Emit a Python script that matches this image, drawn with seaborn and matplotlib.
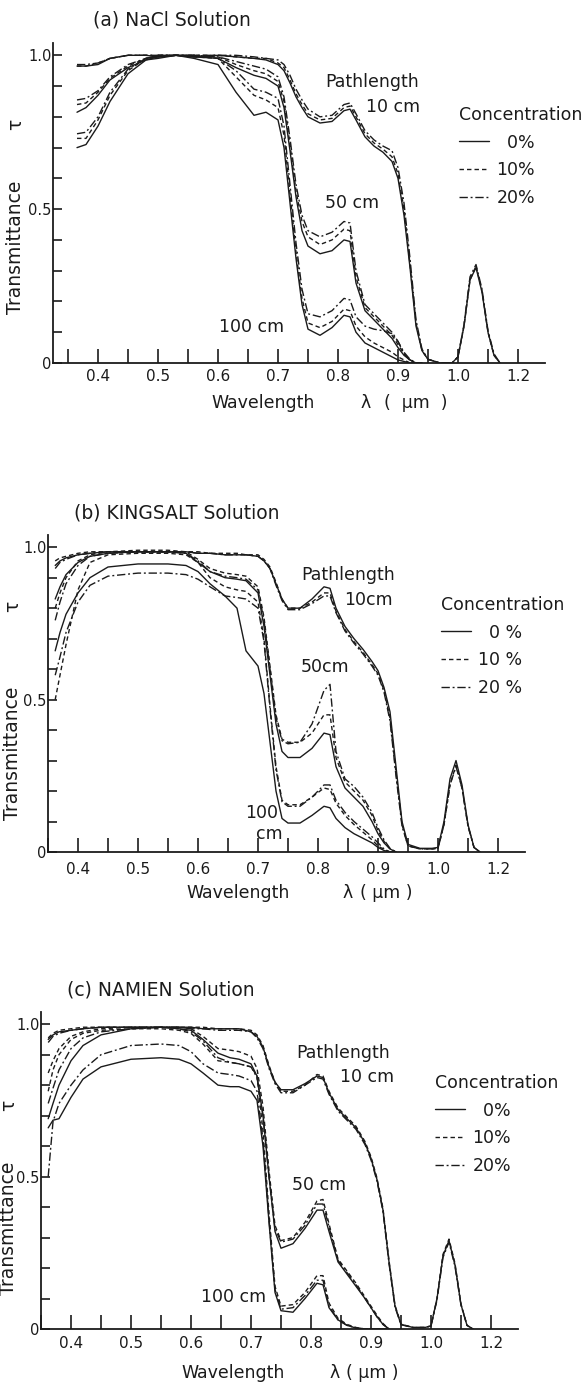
import numpy as np
import pandas as pd
import matplotlib
matplotlib.use("Agg")
import matplotlib.pyplot as plt
import seaborn as sns
from matplotlib.lines import Line2D

# ---------------------------------------------------------------- data
CONCENTRATIONS = ["0%", "10%", "20%"]
PATHS = ["10 cm", "50 cm", "100 cm"]

X_TICKS = [0.35, 0.40, 0.45, 0.50, 0.55, 0.60, 0.65, 0.70, 0.75, 0.80,
           0.85, 0.90, 0.95, 1.00, 1.10, 1.20]
X_TICK_LABELS = ["", "0.4", "", "0.5", "", "0.6", "", "0.7", "", "0.8",
                 "", "0.9", "", "1.0", "", "1.2"]
Y_TICKS = [0.0, 0.1, 0.2, 0.3, 0.4, 0.5, 0.6, 0.7, 0.8, 0.9, 1.0]
Y_TICK_LABELS = ["0", "", "", "", "", "0.5", "", "", "", "", "1.0"]

# ---- (a) NaCl solution
WL_A = [0.365, 0.38, 0.40, 0.42, 0.45, 0.48, 0.50, 0.53, 0.56, 0.60, 0.63,
        0.66, 0.68, 0.70, 0.71, 0.72, 0.73, 0.74, 0.75, 0.77, 0.79, 0.81,
        0.82, 0.83, 0.845, 0.86, 0.875, 0.89, 0.90, 0.91, 0.92, 0.93, 0.94]
WL_A_TAIL = [0.95, 0.97, 0.99, 1.00, 1.02, 1.04, 1.06, 1.08, 1.10, 1.12, 1.14]

A_10_0 = [0.965, 0.965, 0.97, 0.99, 1.0, 1.0, 0.995, 1.0, 0.995, 1.0, 0.995,
          0.99, 0.985, 0.97, 0.95, 0.91, 0.865, 0.83, 0.80, 0.78, 0.785, 0.82,
          0.825, 0.79, 0.735, 0.705, 0.685, 0.655, 0.60, 0.48, 0.31, 0.12, 0.04,
          0.012, 0.0, 0.0, 0.02, 0.12, 0.27, 0.31, 0.23, 0.10, 0.025, 0.0]
A_10_10 = [0.965, 0.965, 0.975, 0.99, 1.0, 1.0, 1.0, 1.0, 1.0, 1.0, 0.995,
           0.99, 0.99, 0.975, 0.96, 0.92, 0.875, 0.84, 0.81, 0.79, 0.795, 0.83,
           0.835, 0.80, 0.745, 0.715, 0.695, 0.67, 0.615, 0.50, 0.32, 0.13, 0.04,
           0.012, 0.0, 0.0, 0.02, 0.12, 0.27, 0.315, 0.235, 0.10, 0.025, 0.0]
A_10_20 = [0.97, 0.97, 0.975, 0.99, 1.0, 1.0, 1.0, 1.0, 1.0, 1.0, 1.0,
           0.995, 0.99, 0.985, 0.97, 0.935, 0.89, 0.855, 0.825, 0.80, 0.805, 0.84,
           0.845, 0.81, 0.755, 0.725, 0.705, 0.69, 0.635, 0.52, 0.34, 0.14, 0.045,
           0.012, 0.0, 0.0, 0.02, 0.125, 0.28, 0.32, 0.24, 0.105, 0.03, 0.0]
A_50_0 = [0.815, 0.83, 0.87, 0.92, 0.96, 0.985, 0.995, 1.0, 0.995, 0.99, 0.96,
          0.935, 0.925, 0.90, 0.83, 0.69, 0.54, 0.43, 0.38, 0.355, 0.365, 0.40,
          0.395, 0.26, 0.17, 0.14, 0.11, 0.08, 0.05, 0.025, 0.01, 0.0, 0.0]
A_50_10 = [0.84, 0.845, 0.88, 0.925, 0.965, 0.99, 0.995, 1.0, 0.995, 0.995, 0.97,
           0.95, 0.94, 0.915, 0.85, 0.71, 0.56, 0.46, 0.41, 0.385, 0.40, 0.435,
           0.43, 0.28, 0.18, 0.15, 0.12, 0.09, 0.06, 0.03, 0.01, 0.0, 0.0]
A_50_20 = [0.855, 0.86, 0.885, 0.93, 0.97, 0.99, 1.0, 1.0, 1.0, 0.995, 0.98,
           0.965, 0.955, 0.93, 0.865, 0.73, 0.58, 0.48, 0.43, 0.41, 0.425, 0.46,
           0.455, 0.30, 0.19, 0.16, 0.13, 0.10, 0.07, 0.035, 0.012, 0.0, 0.0]
A_100_0 = [0.70, 0.71, 0.77, 0.85, 0.94, 0.985, 0.99, 1.0, 0.99, 0.97, 0.88,
           0.805, 0.815, 0.79, 0.70, 0.52, 0.34, 0.19, 0.11, 0.09, 0.115, 0.155,
           0.15, 0.10, 0.065, 0.05, 0.035, 0.02, 0.01, 0.005, 0.0, 0.0, 0.0]
A_100_10 = [0.73, 0.73, 0.79, 0.87, 0.95, 0.99, 0.995, 1.0, 0.995, 0.99, 0.93,
            0.87, 0.855, 0.83, 0.74, 0.55, 0.36, 0.21, 0.13, 0.115, 0.135, 0.175,
            0.17, 0.12, 0.085, 0.065, 0.05, 0.035, 0.02, 0.01, 0.0, 0.0, 0.0]
A_100_20 = [0.745, 0.75, 0.80, 0.88, 0.955, 0.99, 1.0, 1.0, 1.0, 0.99, 0.95,
            0.89, 0.88, 0.86, 0.77, 0.58, 0.39, 0.24, 0.16, 0.15, 0.17, 0.21,
            0.205, 0.15, 0.12, 0.11, 0.105, 0.095, 0.07, 0.03, 0.008, 0.0, 0.0]

# ---- (b) KINGSALT solution
WL_B = [0.362, 0.37, 0.38, 0.40, 0.42, 0.45, 0.50, 0.55, 0.58, 0.60, 0.62,
        0.645, 0.665, 0.68, 0.70, 0.71, 0.72, 0.73, 0.74, 0.75, 0.77, 0.79,
        0.81, 0.82, 0.83, 0.845, 0.86, 0.875, 0.89, 0.90, 0.91, 0.92, 0.93]
WL_B_TAIL = [0.94, 0.95, 0.97, 0.99, 1.00, 1.02, 1.04, 1.06, 1.08, 1.10, 1.12, 1.14]

B_10_0 = [0.94, 0.955, 0.965, 0.975, 0.98, 0.985, 0.985, 0.985, 0.985, 0.98, 0.98,
          0.975, 0.975, 0.975, 0.97, 0.955, 0.93, 0.88, 0.83, 0.80, 0.80, 0.83,
          0.87, 0.865, 0.80, 0.74, 0.70, 0.665, 0.625, 0.595, 0.54, 0.46, 0.28,
          0.10, 0.025, 0.012, 0.012, 0.015, 0.10, 0.24, 0.30, 0.22, 0.09, 0.015, 0.0]
B_10_10 = [0.955, 0.965, 0.97, 0.98, 0.985, 0.985, 0.985, 0.985, 0.985, 0.985, 0.98,
           0.98, 0.98, 0.975, 0.975, 0.96, 0.935, 0.885, 0.83, 0.80, 0.80, 0.82,
           0.85, 0.85, 0.79, 0.73, 0.69, 0.655, 0.615, 0.585, 0.53, 0.44, 0.26,
           0.09, 0.02, 0.01, 0.01, 0.012, 0.09, 0.22, 0.285, 0.21, 0.085, 0.015, 0.0]
B_10_20 = [0.93, 0.95, 0.96, 0.975, 0.98, 0.985, 0.985, 0.985, 0.985, 0.98, 0.98,
           0.975, 0.975, 0.975, 0.97, 0.955, 0.93, 0.875, 0.825, 0.795, 0.795, 0.815,
           0.84, 0.84, 0.785, 0.725, 0.685, 0.65, 0.61, 0.58, 0.525, 0.43, 0.25,
           0.085, 0.02, 0.01, 0.01, 0.012, 0.09, 0.22, 0.28, 0.21, 0.085, 0.015, 0.0]
B_50_0 = [0.83, 0.87, 0.91, 0.95, 0.97, 0.98, 0.985, 0.985, 0.98, 0.95, 0.92,
          0.90, 0.895, 0.89, 0.85, 0.74, 0.58, 0.42, 0.33, 0.31, 0.31, 0.34,
          0.39, 0.385, 0.28, 0.21, 0.18, 0.15, 0.10, 0.06, 0.03, 0.01, 0.0]
B_50_10 = [0.80, 0.85, 0.90, 0.955, 0.975, 0.985, 0.99, 0.99, 0.985, 0.96, 0.93,
           0.915, 0.91, 0.905, 0.87, 0.77, 0.61, 0.45, 0.37, 0.36, 0.36, 0.39,
           0.45, 0.45, 0.31, 0.23, 0.20, 0.17, 0.12, 0.07, 0.035, 0.01, 0.0]
B_50_20 = [0.76, 0.82, 0.88, 0.94, 0.97, 0.98, 0.985, 0.985, 0.98, 0.955, 0.92,
           0.905, 0.90, 0.895, 0.86, 0.76, 0.60, 0.44, 0.365, 0.355, 0.36, 0.42,
           0.53, 0.55, 0.33, 0.24, 0.215, 0.18, 0.13, 0.08, 0.04, 0.012, 0.0]
B_100_0 = [0.66, 0.72, 0.78, 0.85, 0.90, 0.935, 0.945, 0.945, 0.94, 0.92, 0.88,
           0.84, 0.80, 0.66, 0.61, 0.52, 0.36, 0.20, 0.11, 0.095, 0.095, 0.12,
           0.15, 0.145, 0.11, 0.08, 0.06, 0.045, 0.03, 0.015, 0.005, 0.0, 0.0]
B_100_10 = [0.50, 0.58, 0.68, 0.86, 0.95, 0.975, 0.98, 0.98, 0.975, 0.95, 0.90,
            0.87, 0.86, 0.855, 0.82, 0.70, 0.48, 0.28, 0.17, 0.155, 0.155, 0.18,
            0.21, 0.205, 0.16, 0.12, 0.09, 0.065, 0.04, 0.02, 0.008, 0.0, 0.0]
B_100_20 = [0.58, 0.64, 0.72, 0.82, 0.875, 0.905, 0.915, 0.915, 0.91, 0.895, 0.87,
            0.84, 0.835, 0.83, 0.80, 0.69, 0.47, 0.27, 0.165, 0.15, 0.15, 0.18,
            0.22, 0.22, 0.17, 0.13, 0.10, 0.075, 0.05, 0.03, 0.01, 0.0, 0.0]

# ---- (c) NAMIEN solution
WL_C = [0.362, 0.37, 0.38, 0.40, 0.42, 0.45, 0.50, 0.55, 0.58, 0.60, 0.62,
        0.645, 0.665, 0.68, 0.70, 0.71, 0.72, 0.73, 0.74, 0.75, 0.77, 0.79,
        0.81, 0.82, 0.83, 0.845, 0.86, 0.875, 0.89, 0.90, 0.91, 0.92, 0.93]
WL_C_TAIL = [0.94, 0.95, 0.97, 0.99, 1.00, 1.02, 1.04, 1.06, 1.08, 1.10, 1.12, 1.14]

C_10_0 = [0.95, 0.965, 0.975, 0.98, 0.985, 0.99, 0.99, 0.99, 0.99, 0.99, 0.985,
          0.985, 0.985, 0.985, 0.975, 0.96, 0.925, 0.86, 0.81, 0.785, 0.785, 0.805,
          0.83, 0.825, 0.775, 0.72, 0.69, 0.66, 0.61, 0.56, 0.49, 0.39, 0.22,
          0.075, 0.015, 0.005, 0.005, 0.01, 0.10, 0.24, 0.29, 0.21, 0.08, 0.012, 0.0]
C_10_10 = [0.955, 0.97, 0.98, 0.985, 0.99, 0.99, 0.99, 0.99, 0.99, 0.99, 0.99,
           0.985, 0.985, 0.985, 0.98, 0.965, 0.93, 0.865, 0.81, 0.78, 0.78, 0.80,
           0.835, 0.83, 0.78, 0.725, 0.695, 0.665, 0.615, 0.565, 0.495, 0.395, 0.225,
           0.078, 0.016, 0.005, 0.005, 0.01, 0.10, 0.245, 0.295, 0.215, 0.082, 0.012, 0.0]
C_10_20 = [0.94, 0.96, 0.97, 0.98, 0.985, 0.99, 0.99, 0.99, 0.99, 0.985, 0.985,
           0.98, 0.98, 0.98, 0.975, 0.955, 0.92, 0.855, 0.805, 0.775, 0.775, 0.80,
           0.825, 0.82, 0.77, 0.715, 0.685, 0.655, 0.605, 0.555, 0.485, 0.385, 0.215,
           0.072, 0.014, 0.005, 0.005, 0.01, 0.095, 0.235, 0.285, 0.205, 0.078, 0.012, 0.0]
C_50_0 = [0.69, 0.74, 0.80, 0.88, 0.93, 0.965, 0.985, 0.99, 0.985, 0.98, 0.95,
          0.905, 0.89, 0.885, 0.87, 0.83, 0.70, 0.50, 0.32, 0.265, 0.28, 0.33,
          0.39, 0.39, 0.32, 0.22, 0.18, 0.14, 0.10, 0.07, 0.04, 0.015, 0.0]
C_50_10 = [0.84, 0.88, 0.92, 0.96, 0.975, 0.985, 0.99, 0.99, 0.99, 0.985, 0.96,
           0.92, 0.915, 0.91, 0.895, 0.855, 0.73, 0.52, 0.34, 0.29, 0.30, 0.35,
           0.42, 0.425, 0.345, 0.23, 0.19, 0.15, 0.105, 0.075, 0.045, 0.018, 0.0]
C_50_20 = [0.74, 0.79, 0.85, 0.92, 0.955, 0.975, 0.985, 0.99, 0.985, 0.975, 0.945,
           0.89, 0.875, 0.87, 0.86, 0.825, 0.70, 0.50, 0.33, 0.285, 0.295, 0.34,
           0.41, 0.41, 0.335, 0.225, 0.185, 0.145, 0.10, 0.07, 0.04, 0.015, 0.0]
C_100_0 = [0.66, 0.685, 0.69, 0.76, 0.82, 0.86, 0.885, 0.89, 0.885, 0.87, 0.84,
           0.80, 0.795, 0.795, 0.78, 0.75, 0.60, 0.35, 0.12, 0.06, 0.055, 0.10,
           0.15, 0.145, 0.07, 0.03, 0.012, 0.003, 0.0, 0.0, 0.0, 0.0, 0.0]
C_100_10 = [0.78, 0.85, 0.90, 0.95, 0.97, 0.98, 0.985, 0.985, 0.98, 0.97, 0.935,
            0.88, 0.875, 0.87, 0.86, 0.83, 0.65, 0.38, 0.14, 0.075, 0.08, 0.12,
            0.175, 0.175, 0.085, 0.035, 0.015, 0.005, 0.0, 0.0, 0.0, 0.0, 0.0]
C_100_20 = [0.50, 0.68, 0.74, 0.80, 0.85, 0.90, 0.93, 0.935, 0.93, 0.91, 0.87,
            0.84, 0.835, 0.83, 0.815, 0.78, 0.62, 0.36, 0.13, 0.065, 0.07, 0.11,
            0.16, 0.16, 0.075, 0.03, 0.012, 0.004, 0.0, 0.0, 0.0, 0.0, 0.0]

# ---------------------------------------------------------------- style
W, H = 583, 1386
INK = "#1b1b1b"
DASHES = {"0%": "", "10%": (3.2, 2.2), "20%": (6.0, 2.0, 1.4, 2.0)}
LSTYLE = {"0%": "-", "10%": (0, (3.2, 2.2)), "20%": (0, (6.0, 2.0, 1.4, 2.0))}

sns.set_theme(style="white")
plt.rcParams["font.family"] = ["DejaVu Sans"]
plt.rcParams["axes.linewidth"] = 1.3


def fx(px):
    return px / W


def fy(py):
    return 1 - py / H


def fwd(x):
    x = np.asarray(x, dtype=float)
    return np.where(x <= 1.0, x, 1.0 + (x - 1.0) / 2.0)


def inv(t):
    t = np.asarray(t, dtype=float)
    return np.where(t <= 1.0, t, 1.0 + 2.0 * (t - 1.0))


def build_frame(wl, tail, series):
    rows = []
    for (path, conc), vals in series.items():
        x = list(wl) + list(tail) if path == "10 cm" else list(wl)
        for xi, yi in zip(x, vals):
            rows.append({"wl": xi, "tau": yi, "path": path, "conc": conc})
    return pd.DataFrame(rows)


PANELS = [
    dict(
        df=build_frame(WL_A, WL_A_TAIL, {
            ("10 cm", "0%"): A_10_0, ("10 cm", "10%"): A_10_10, ("10 cm", "20%"): A_10_20,
            ("50 cm", "0%"): A_50_0, ("50 cm", "10%"): A_50_10, ("50 cm", "20%"): A_50_20,
            ("100 cm", "0%"): A_100_0, ("100 cm", "10%"): A_100_10, ("100 cm", "20%"): A_100_20}),
        rect=[fx(53), fy(363), (545 - 53) / W, (363 - 43) / H], xmin=0.325, xpad=4,
        title="(a) NaCl Solution", title_xy=(93, 20),
        ylab_xy=(16, 247), tau_xy=(16, 124),
        xl=[("Wavelength", 263, 403), ("λ", 366, 403), ("(  µm  )", 416, 403)],
        notes=[("Pathlength", 325, 82), ("10 cm", 366, 107), ("50 cm", 325, 203),
               ("100 cm", 219, 327)],
        legend_xy=(459, 106), legend_labels=["  0%", "10%", "20%"]),
    dict(
        df=build_frame(WL_B, WL_B_TAIL, {
            ("10 cm", "0%"): B_10_0, ("10 cm", "10%"): B_10_10, ("10 cm", "20%"): B_10_20,
            ("50 cm", "0%"): B_50_0, ("50 cm", "10%"): B_50_10, ("50 cm", "20%"): B_50_20,
            ("100 cm", "0%"): B_100_0, ("100 cm", "10%"): B_100_10, ("100 cm", "20%"): B_100_20}),
        rect=[fx(48), fy(852), (525 - 48) / W, (852 - 535) / H], xmin=0.35, xpad=7,
        title="(b) KINGSALT Solution", title_xy=(74, 513),
        ylab_xy=(13, 753), tau_xy=(13, 606),
        xl=[("Wavelength", 238, 893), ("λ", 348, 893), ("( µm )", 386, 893)],
        notes=[("Pathlength", 301, 575), ("10cm", 344, 600), ("50cm", 301, 667),
               ("100", 245, 813), ("cm", 256, 834)],
        legend_xy=(441, 596), legend_labels=["  0 %", "10 %", "20 %"]),
    dict(
        df=build_frame(WL_C, WL_C_TAIL, {
            ("10 cm", "0%"): C_10_0, ("10 cm", "10%"): C_10_10, ("10 cm", "20%"): C_10_20,
            ("50 cm", "0%"): C_50_0, ("50 cm", "10%"): C_50_10, ("50 cm", "20%"): C_50_20,
            ("100 cm", "0%"): C_100_0, ("100 cm", "10%"): C_100_10, ("100 cm", "20%"): C_100_20}),
        rect=[fx(41), fy(1329), (518 - 41) / W, (1329 - 1012) / H], xmin=0.35, xpad=5,
        title="(c) NAMIEN Solution", title_xy=(67, 990),
        ylab_xy=(9, 1228), tau_xy=(9, 1105),
        xl=[("Wavelength", 233, 1373), ("λ", 335, 1373), ("( µm )", 372, 1373)],
        notes=[("Pathlength", 296, 1053), ("10 cm", 340, 1077), ("50 cm", 292, 1185),
               ("100 cm", 201, 1297)],
        legend_xy=(435, 1074), legend_labels=["  0%", "10%", "20%"]),
]

fig = plt.figure(figsize=(W / 100, H / 100), dpi=100)
fig.patch.set_facecolor("white")

FS = 12.5
for p in PANELS:
    ax = fig.add_axes(p["rect"])
    ax.set_facecolor("none")
    sns.lineplot(data=p["df"], x="wl", y="tau", style="conc", units="path",
                 estimator=None, sort=False, dashes=DASHES,
                 style_order=CONCENTRATIONS, color=INK, lw=1.0,
                 legend=False, ax=ax)
    ax.set_xscale("function", functions=(fwd, inv))
    ax.set_xlim(p["xmin"], 1.29)
    ax.set_ylim(0, 1.04)
    ax.set_xticks(X_TICKS)
    ax.set_xticklabels(X_TICK_LABELS)
    ax.set_yticks(Y_TICKS)
    ax.set_yticklabels(Y_TICK_LABELS)
    ax.tick_params(axis="x", direction="in", length=10, width=1.2,
                   bottom=True, labelsize=11, pad=p["xpad"], colors=INK)
    ax.tick_params(axis="y", direction="in", length=6.5, width=1.2,
                   left=True, labelsize=10.5, pad=1, colors=INK)
    ax.minorticks_off()
    ax.set_xlabel("")
    ax.set_ylabel("")
    for side in ("top", "right"):
        ax.spines[side].set_visible(False)
    for side in ("left", "bottom"):
        ax.spines[side].set_color(INK)
        ax.spines[side].set_linewidth(1.3)

    fig.text(fx(p["title_xy"][0]), fy(p["title_xy"][1]), p["title"],
             ha="left", va="center", fontsize=13.5, color=INK)
    fig.text(fx(p["ylab_xy"][0]), fy(p["ylab_xy"][1]), "Transmittance",
             rotation=90, ha="center", va="center", fontsize=13.5, color=INK)
    fig.text(fx(p["tau_xy"][0]), fy(p["tau_xy"][1]), "τ",
             rotation=90, ha="center", va="center", fontsize=13.5, color=INK)
    for txt, x, y in p["xl"]:
        fig.text(fx(x), fy(y), txt, ha="center", va="center", fontsize=FS, color=INK)
    for txt, x, y in p["notes"]:
        fig.text(fx(x), fy(y), txt, ha="left", va="center", fontsize=FS, color=INK)

    handles = [Line2D([], [], color=INK, lw=1.0, linestyle=LSTYLE[c]) for c in CONCENTRATIONS]
    leg = ax.legend(handles, p["legend_labels"], title="Concentration",
                    loc="upper left", bbox_to_anchor=(fx(p["legend_xy"][0]), fy(p["legend_xy"][1])),
                    bbox_transform=fig.transFigure, frameon=False, fontsize=FS,
                    title_fontsize=FS, handlelength=1.7, handletextpad=0.45,
                    labelspacing=0.55, borderpad=0, borderaxespad=0,
                    alignment="left")
    for t in leg.get_texts():
        t.set_color(INK)
    leg.get_title().set_color(INK)

fig.savefig("out.png", dpi=100, facecolor="white")
